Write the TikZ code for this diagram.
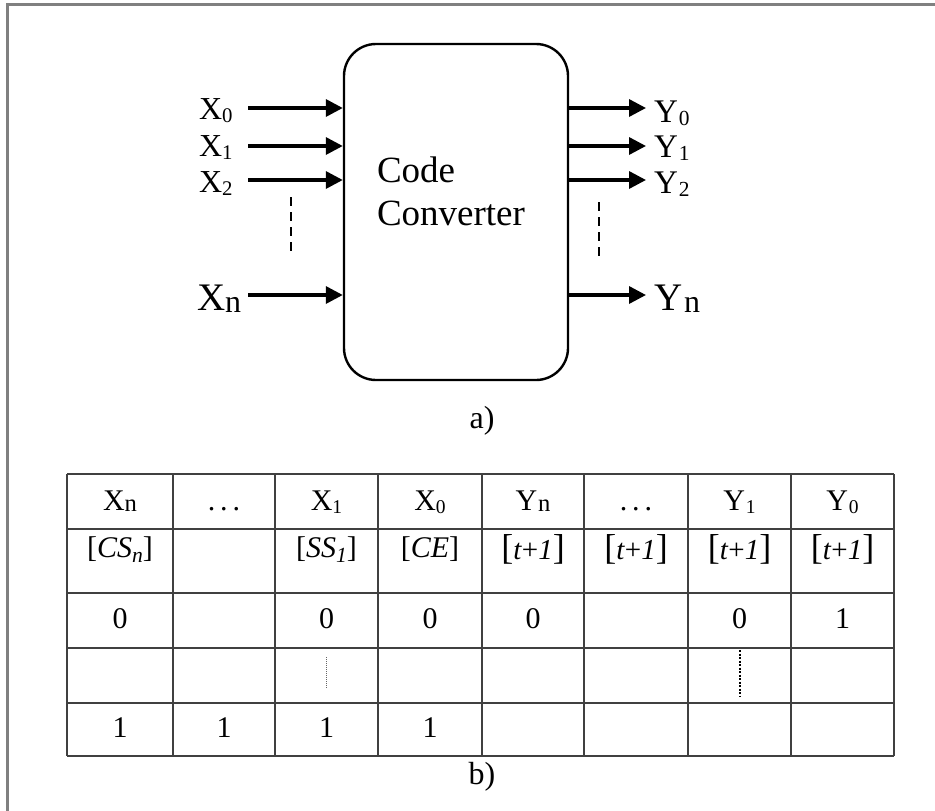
\documentclass[tikz,border=0pt]{standalone}
\usepackage{fontspec}
\setmainfont{Liberation Serif}
\usetikzlibrary{arrows.meta}
\newcommand\dsub[1]{\raisebox{-0.12em}{\scalebox{0.65}{#1}}}
\newcommand\nsub{\raisebox{-0.06em}{\scalebox{0.82}{n}}}
\newcommand\isub[1]{\raisebox{-0.18em}{\scalebox{0.72}{\textit{#1}}}}
\newcommand\fs[1]{\fontsize{#1}{#1}\selectfont}
\newcommand\tpo{{\fs{36}[}{\fs{29}\textit{t}+\textit{1}}{\fs{36}]}}
\newcommand\ldts{.\kern5pt.\kern5pt.}
\begin{document}
\begin{tikzpicture}[x=1pt,y=-1pt,
  lbl/.style={anchor=base west,inner sep=0pt,outer sep=0pt},
  cell/.style={anchor=base,inner sep=0pt,outer sep=0pt,font=\fs{30}},
  arr/.style={line width=3.4pt,-{Triangle[length=17pt,width=17pt]}},
  conv/.style={draw,line width=2.4pt,rounded corners=32pt,minimum width=224pt,minimum height=336pt,inner sep=0pt},
  grid/.style={draw=black!75,line width=2.2pt}]
\useasboundingbox (0,0) rectangle (935,811);
% frame
\draw[draw=black!50,line width=2.2pt] (7.5,811) -- (7.5,4.5) -- (935,4.5);
% converter
\node[conv] (box) at (456,212) {};
\node[lbl,font=\fs{37}] (code) at (377,182) {Code};
\node[lbl,font=\fs{37}] (convt) at (377,225) {Converter};
% input labels
\node[lbl,font=\fs{32}] (x0) at (199,119) {X\dsub{0}};
\node[lbl,font=\fs{32}] (x1) at (199,156) {X\dsub{1}};
\node[lbl,font=\fs{32}] (x2) at (199,192) {X\dsub{2}};
\node[lbl,font=\fs{39}] (xn) at (197,310) {X\nsub};
\coordinate (i0) at (248,108);
\coordinate (i1) at (248,146);
\coordinate (i2) at (248,180);
\coordinate (in) at (248,295);
\foreach \c in {i0,i1,i2,in} \draw[arr] (\c) -- (\c -| box.west);
% output labels
\node[lbl,font=\fs{33}] (y0) at (654,122) {Y\kern1pt\dsub{0}};
\node[lbl,font=\fs{33}] (y1) at (654,157) {Y\kern1pt\dsub{1}};
\node[lbl,font=\fs{33}] (y2) at (654,193) {Y\kern1pt\dsub{2}};
\node[lbl,font=\fs{39}] (yn) at (654,310) {Y\kern2pt\nsub};
\coordinate (o0) at (646,108);
\coordinate (o1) at (646,146);
\coordinate (o2) at (646,180);
\coordinate (on) at (646,295);
\foreach \c in {o0,o1,o2,on} \draw[arr] (\c -| box.east) -- (\c);
% dashed
\coordinate (dl1) at (291,197); \coordinate (dl2) at (291,254);
\coordinate (dr1) at (599,202); \coordinate (dr2) at (599,257);
\draw[line width=2.2pt,dash pattern=on 9pt off 6pt] (dl1) -- (dl2);
\draw[line width=2.2pt,dash pattern=on 9pt off 6pt] (dr1) -- (dr2);
\node[anchor=base,inner sep=0pt,font=\fs{32}] (capa) at (482,428) {a)};
% table grid
\foreach \xx in {67,173,275,378,482,584,688,791,894} \draw[grid] (\xx,474) -- (\xx,756);
\foreach \yy in {474,529,593,648,703,756} \draw[grid] (67,\yy) -- (894,\yy);
% header
\node[cell] (h1) at (120,510) {X\nsub};
\node[cell] (h2) at (224,510) {\ldts};
\node[cell] (h3) at (326.5,510) {X\dsub{1}};
\node[cell] (h4) at (430,510) {X\dsub{0}};
\node[cell] (h5) at (533,510) {Y\kern1pt\nsub};
\node[cell] (h6) at (636,510) {\ldts};
\node[cell] (h7) at (739.5,510) {Y\kern1pt\dsub{1}};
\node[cell] (h8) at (842.5,510) {Y\kern1pt\dsub{0}};
% second row
\node[cell] (s1) at (120,557) {[\textit{CS}\isub{n}]};
\node[cell] (s3) at (326.5,557) {[\textit{SS}\isub{1}]};
\node[cell] (s4) at (430,557) {[\textit{CE}]};
\node[cell] (s5) at (533,559) {\tpo};
\node[cell] (s6) at (636,559) {\tpo};
\node[cell] (s7) at (739.5,559) {\tpo};
\node[cell] (s8) at (842.5,559) {\tpo};
% third row
\node[cell] (r1) at (120,628) {0};
\node[cell] (r3) at (326.5,628) {0};
\node[cell] (r4) at (430,628) {0};
\node[cell] (r5) at (533,628) {0};
\node[cell] (r7) at (739.5,628) {0};
\node[cell] (r8) at (842.5,628) {1};
% dotted
\coordinate (da1) at (326.5,657); \coordinate (da2) at (326.5,688);
\coordinate (db1) at (739.5,650); \coordinate (db2) at (739.5,697);
\draw[black!60,line width=1pt,dash pattern=on 1pt off 1pt] (da1) -- (da2);
\draw[line width=2pt,dash pattern=on 2pt off 1.5pt] (db1) -- (db2);
% last row
\node[cell] (l1) at (120,737) {1};
\node[cell] (l2) at (224,737) {1};
\node[cell] (l3) at (326.5,737) {1};
\node[cell] (l4) at (430,737) {1};
\node[anchor=base,inner sep=0pt,font=\fs{32}] (capb) at (482,784) {b)};
\end{tikzpicture}
\end{document}
